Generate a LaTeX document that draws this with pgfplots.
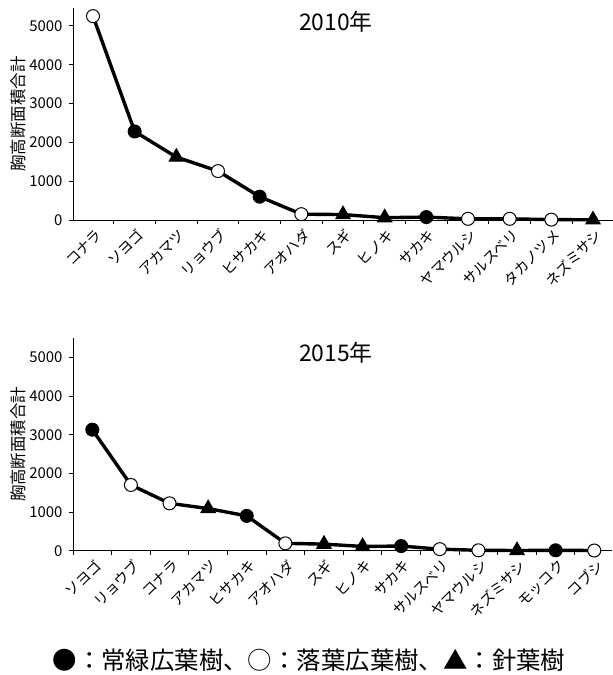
\documentclass[border=0pt]{standalone}
\usepackage{fontspec}
\usepackage{pgfplots}
\pgfplotsset{compat=1.18}
\usepackage{pgfplotstable}
\setmainfont{Noto Sans CJK JP}
\newcommand\xf{\fontsize{14.5}{15}\selectfont}
\newcommand\yf{\fontsize{15}{16}\selectfont}

\pgfplotstableread{
x y c
0 5250 d
1 2280 e
2 1620 c
3 1260 d
4 600 e
5 150 d
6 140 c
7 60 c
8 75 e
9 30 d
10 30 d
11 10 d
12 5 c
}\dataA

\pgfplotstableread{
x y c
0 3130 e
1 1700 d
2 1225 d
3 1090 c
4 900 e
5 190 d
6 170 c
7 110 c
8 120 e
9 40 d
10 10 d
11 5 c
12 10 e
13 5 d
}\dataB

\pgfplotsset{
  mystyle/.style={
    scale only axis,
    axis x line*=bottom,
    axis y line*=left,
    axis line style={line width=0.9bp},
    ymin=0,
    ytick={0,1000,...,5000},
    yticklabels={\yf 0,\yf 1000,\yf 2000,\yf 3000,\yf 4000,\yf 5000},
    yticklabel style={xshift=-3bp},
    tick align=outside,
    major tick length=4bp,
    minor tick length=4bp,
    tick style={black, line width=0.9bp},
    xtick=data,
    xticklabel style={rotate=45, anchor=east, yshift=-10bp, xshift=2bp},
    major x tick style={draw=none},
    every axis y label/.style={at={(axis description cs:0,0.5)}, rotate=90, anchor=center, yshift=55bp, font=\fontsize{16.5}{17}\selectfont},
    ylabel={胸高断面積合計},
    clip=false,
  },
  myline/.style={
    black, line width=3.4bp, no marks, line join=round,
  },
  mymarks/.style={
    scatter, only marks,
    scatter src=explicit symbolic,
    mark options={line width=1bp, draw=black},
    scatter/classes={
      e={mark=*, mark size=6.5bp, fill=black},
      d={mark=*, mark size=6.5bp, fill=white},
      c={mark=triangle*, mark size=8.3bp, fill=black}
    },
  },
}

\begin{document}
\begin{tikzpicture}
\useasboundingbox (0,0) rectangle (613bp,675bp);
\begin{axis}[mystyle,
  at={(73bp,455bp)}, anchor=south west,
  width=540bp, height=212bp,
  xmin=-0.48, xmax=12.48, ymax=5460,
  minor xtick={-0.5,0.5,...,12.5},
  xticklabels={\xf コナラ,\xf ソヨゴ,\xf アカマツ,\xf リョウブ,\xf ヒサカキ,\xf アオハダ,\xf スギ,\xf ヒノキ,\xf サカキ,\xf ヤマウルシ,\xf サルスベリ,\xf タカノツメ,\xf ネズミサシ},
]
\addplot[myline] table[x=x, y=y] {\dataA};
\addplot[mymarks] table[x=x, y=y, meta=c] {\dataA};
\end{axis}

\begin{axis}[mystyle,
  at={(73bp,124.3bp)}, anchor=south west,
  width=539bp, height=212.7bp,
  xmin=-0.5, xmax=13.46, ymax=5500,
  minor xtick={-0.5,0.5,...,13.5},
  xticklabels={\xf ソヨゴ,\xf リョウブ,\xf コナラ,\xf アカマツ,\xf ヒサカキ,\xf アオハダ,\xf スギ,\xf ヒノキ,\xf サカキ,\xf サルスベリ,\xf ヤマウルシ,\xf ネズミサシ,\xf モッコク,\xf コブシ},
]
\addplot[myline] table[x=x, y=y] {\dataB};
\addplot[mymarks] table[x=x, y=y, meta=c] {\dataB};
\end{axis}

\node[font=\fontsize{23}{24}\selectfont] at (336bp,653bp) {2010年};
\node[font=\fontsize{23}{24}\selectfont] at (336bp,322bp) {2015年};
\node[font=\fontsize{24.5}{26}\selectfont] at (309bp,15bp) {●：常緑広葉樹、○：落葉広葉樹、▲：針葉樹};
\end{tikzpicture}
\end{document}
